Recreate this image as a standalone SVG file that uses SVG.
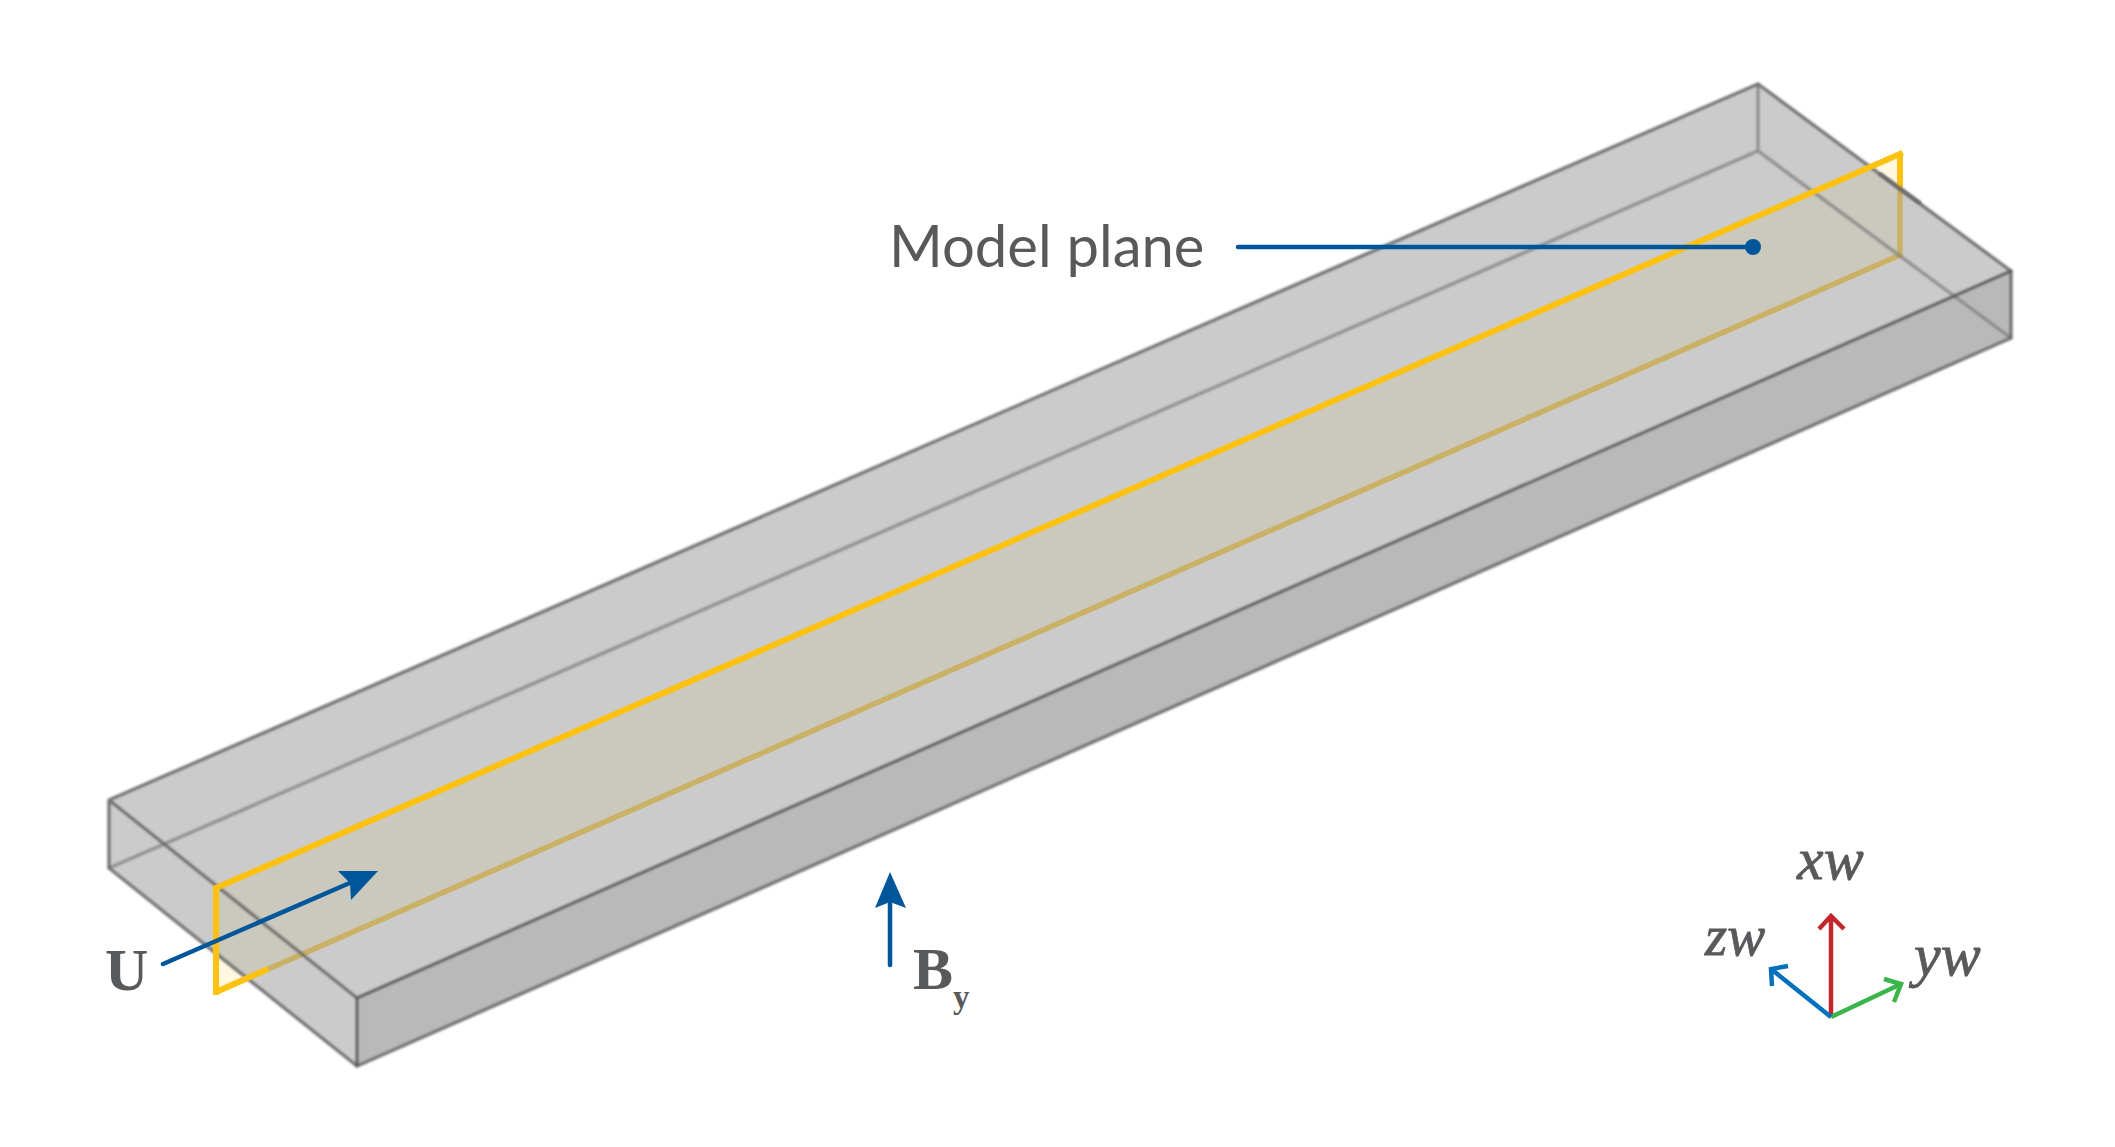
<svg xmlns="http://www.w3.org/2000/svg" width="2115" height="1147" viewBox="0 0 2115 1147">
<defs>
<filter id="soft" x="-5%" y="-5%" width="110%" height="110%"><feGaussianBlur stdDeviation="0.8"/></filter>
<style>
.edge{fill:none;stroke:#5a5a5a;stroke-width:3.2;stroke-linejoin:round;stroke-linecap:round;stroke-opacity:.9}
.outer{fill:none;stroke:#6a6a6a;stroke-width:3.4;stroke-linejoin:round;stroke-linecap:round;stroke-opacity:.9}
.back{fill:none;stroke:#7d7d7d;stroke-width:3.4;stroke-linecap:round;stroke-opacity:.75}
.blue{fill:none;stroke:#00569a;stroke-width:4.5;stroke-linecap:round}
.bluehead{fill:#00569a}
.yel{fill:none;stroke:#fdc20f;stroke-width:6;stroke-linecap:square}
.ax{fill:none;stroke-width:4.5;stroke-linejoin:miter}
.lab{fill:#58595b}
.ser{font-family:"Liberation Serif",serif}
.it{font-style:italic;stroke:#58595b;stroke-width:.8}
</style>
</defs>
<rect width="2115" height="1147" fill="#fff"/>
<g id="model-plane-under">
<polygon points="216,888 1900,154 1900,255 216,992" fill="#fdc20f" fill-opacity=".13"/>
<path d="M216,992 L1900,255 V154" fill="none" stroke="#fdc20f" stroke-width="5.5"/>
</g>
<g id="box" filter="url(#soft)">
<polygon points="109,800 1758,84 2011,271 2011,338 357,1066 109,868" fill="#a6a6a6" fill-opacity=".58"/>
<polygon points="357,998 2011,271 2011,338 357,1066" fill="#a0a0a0" fill-opacity=".4"/>
<path class="back" d="M109,868 L1758,151 L2011,338 M1758,84 V151"/>
<path class="outer" d="M109,800 L1758,84 L2011,271 V338 L357,1066 L109,868 Z M109,800 L357,998"/>
<path class="edge" d="M357,1066 V998 L2011,271"/>
</g>
<g id="model-plane-over">
<path class="yel" stroke-linejoin="miter" d="M216,992 V888 L1900,154"/>
<path d="M216,992 L268,969" fill="none" stroke="#fdc20f" stroke-width="6"/>
<path d="M1900,154 V186" fill="none" stroke="#fdc20f" stroke-width="6"/>
<path class="outer" filter="url(#soft)" d="M1880,174 L1920,203"/>
</g>
<g id="connectors">
<path class="blue" d="M163,964 L352,882"/>
<polygon class="bluehead" points="378,871 338,871 350,883 351,900"/>
<path class="blue" d="M890,965 V900"/>
<polygon class="bluehead" points="890,872 875,908 890,902 906,908"/>
<path class="blue" d="M1238,247 H1753"/>
<circle class="bluehead" cx="1753" cy="247" r="8"/>
<g id="axis-x"><path class="ax" stroke="#c1272d" d="M1831,1017 V916 M1819,929 L1831,916 L1844,929"/></g>
<g id="axis-y"><path class="ax" stroke="#39b54a" d="M1831,1017 L1901,984 M1884,979 L1901,984 L1894,1002"/></g>
<g id="axis-z"><path class="ax" stroke="#0071bc" d="M1831,1017 L1771,969 M1788,966 L1771,969 L1772,986"/></g>
</g>
<g id="label-model-plane"><text class="lab" x="889" y="267" font-family="Lato, sans-serif" font-size="58">Model plane</text></g>
<g id="label-u"><text class="lab ser" x="105" y="990" font-size="60" font-weight="700">U</text></g>
<g id="label-by"><text class="lab ser" x="913" y="989" font-size="60" font-weight="700">B</text><text class="lab ser" x="953" y="1008" font-size="33" font-weight="700">y</text></g>
<g id="label-xw"><text class="lab ser it" x="1797" y="879" font-size="60">xw</text></g>
<g id="label-yw"><text class="lab ser it" x="1914" y="975" font-size="60">yw</text></g>
<g id="label-zw"><text class="lab ser it" x="1705" y="955" font-size="57">zw</text></g>
</svg>
